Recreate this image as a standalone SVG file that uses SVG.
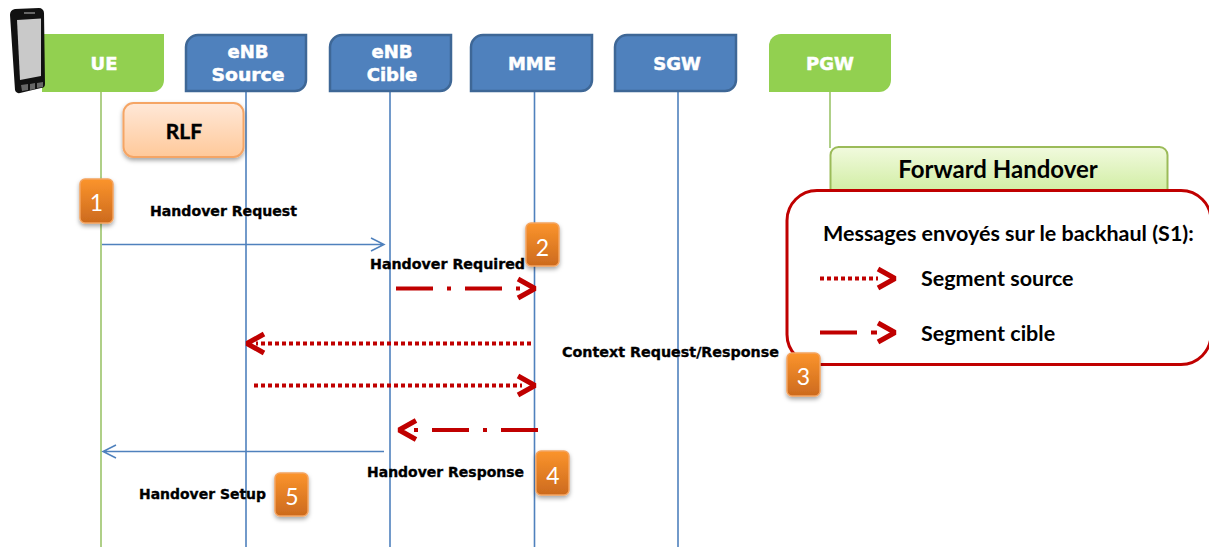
<svg xmlns="http://www.w3.org/2000/svg" width="1209" height="547" viewBox="0 0 1209 547">
<style>
.ll{fill:none;stroke-width:1.6}
.blue{stroke:#4f81bd}.green{stroke:#9bc46a}
.hd{font-family:"DejaVu Sans",sans-serif;font-weight:700;font-size:18px;fill:#fff;text-anchor:middle;stroke:#fff;stroke-width:.5}
.lb{font-family:"DejaVu Sans",sans-serif;font-weight:700;font-size:14.500px;fill:#000;stroke:#000;stroke-width:.35}
.cal{font-family:Lato,"Noto Sans",sans-serif;font-weight:700;fill:#000}
.num{font-family:Lato,"Noto Sans",sans-serif;font-size:23px;fill:#fff;text-anchor:middle}
.thin{fill:none;stroke:#4f81bd;stroke-width:1.5}
.red{fill:none;stroke:#c00000;stroke-width:4}
.dot{stroke-dasharray:4 3}
.dash{stroke-dasharray:37 14 4 14}
.head{fill:none;stroke:#c00000;stroke-width:5;stroke-linejoin:bevel}
.bnode{fill:#4f81bd;stroke:#3e6796;stroke-width:2.500}
.badge{fill:url(#og);stroke:#f4a460;stroke-width:1.500;filter:url(#sh)}
</style>
<defs>
<linearGradient id="og" x1="0" y1="0" x2="0" y2="1"><stop offset="0" stop-color="#fb942c"/><stop offset="1" stop-color="#cc6a1e"/></linearGradient>
<linearGradient id="pg" x1="0" y1="0" x2="0" y2="1"><stop offset="0" stop-color="#ffe8d8"/><stop offset="1" stop-color="#ffc99a"/></linearGradient>
<linearGradient id="gg" x1="0" y1="0" x2="0" y2="1"><stop offset="0" stop-color="#f1fade"/><stop offset="1" stop-color="#cdec9c"/></linearGradient>
<filter id="sh" x="-30%" y="-30%" width="160%" height="170%"><feDropShadow dx="0" dy="2.500" stdDeviation="2" flood-color="#000" flood-opacity=".35"/></filter>
</defs>
<g id="connectors">
<path class="ll green" d="M101 92V547"/>
<path class="ll blue" d="M246 92V547"/>
<path class="ll blue" d="M390 92V547"/>
<path class="ll blue" d="M534.500 92V547"/>
<path class="ll blue" d="M678 92V547"/>
<path class="ll green" d="M830 92V148"/>
<path class="thin" d="M102 244.500H383M371 238l13 6.500-13 6.500"/>
<path class="thin" d="M384 451.500H103M116 445l-13 6.500 13 6.500"/>
<path class="red dash" d="M396 288.500H522"/>
<path class="head" d="M518 279l17 9.500-17 9.500"/>
<path class="red dot" d="M531 343.500H256"/>
<path class="head" d="M264 334l-17 9.500 17 9.500"/>
<path class="red dot" d="M254 385.500H522"/>
<path class="head" d="M518 376l17 9.500-17 9.500"/>
<path class="red dash" d="M538 430H412"/>
<path class="head" d="M416 420.500l-17 9.500 17 9.500"/>
</g>
<g id="ue"><path d="M42 34H164V80a12 12 0 0 1-12 12H42Z" fill="#92d050"/><text class="hd" x="104" y="70">UE</text></g>
<g id="phone">
<path d="M15 9L39 8a5 5 0 0 1 5 5L45 84a4 4 0 0 1-4 4L20 93a4 4 0 0 1-5-3L10 15a6 6 0 0 1 5-6Z" fill="#111"/>
<path d="M17 20L41 18.500V76L20 80Z" fill="#c9c9c9"/>
<rect x="24" y="12" width="11" height="2" fill="#666"/>
<path d="M21 85l7-1v6l-6 1ZM30 84l5-1v6l-5 1ZM37 83l6-1v5l-6 1Z" fill="#666"/>
</g>
<g id="enb-source"><path class="bnode" d="M198 35H306V80a11 11 0 0 1-11 11H186V47a12 12 0 0 1 12-12Z"/><text class="hd" x="248" y="58">eNB</text><text class="hd" x="248" y="81" textLength="73" lengthAdjust="spacingAndGlyphs">Source</text></g>
<g id="enb-cible"><path class="bnode" d="M342 35H451V80a11 11 0 0 1-11 11H330V47a12 12 0 0 1 12-12Z"/><text class="hd" x="392" y="58">eNB</text><text class="hd" x="392" y="81">Cible</text></g>
<g id="mme"><path class="bnode" d="M483 35H592V80a11 11 0 0 1-11 11H471V47a12 12 0 0 1 12-12Z"/><text class="hd" x="532" y="70">MME</text></g>
<g id="sgw"><path class="bnode" d="M627 35H736V80a11 11 0 0 1-11 11H615V47a12 12 0 0 1 12-12Z"/><text class="hd" x="677" y="70">SGW</text></g>
<g id="pgw"><path d="M781 34H891V80a12 12 0 0 1-12 12H769V46a12 12 0 0 1 12-12Z" fill="#92d050"/><text class="hd" x="830" y="70">PGW</text></g>
<g id="rlf"><rect x="123.500" y="103" width="120" height="54" rx="10" fill="url(#pg)" stroke="#f5a565" stroke-width="2" filter="url(#sh)"/><text class="cal" x="184" y="139" font-size="21" text-anchor="middle" stroke="#000" stroke-width=".4">RLF</text></g>
<g id="forward-handover"><rect x="830.500" y="147" width="337" height="50" rx="8" fill="url(#gg)" stroke="#9bbb59" stroke-width="2"/><text class="cal" x="998" y="178" font-size="24" text-anchor="middle">Forward Handover</text></g>
<g id="legend">
<rect x="787" y="190.500" width="424" height="174" rx="30" fill="#fff" stroke="#c00000" stroke-width="3"/>
<text class="cal" x="823" y="241" font-size="21.500">Messages envoyés sur le backhaul (S1):</text>
<path class="red dot" d="M820 278.500H878"/><path class="head" d="M878 269l17 9.500-17 9.500"/>
<text class="cal" x="921" y="286" font-size="21.500">Segment source</text>
<path class="red" d="M820 332.500H857M871 332.500H877"/><path class="head" d="M878 323l17 9.500-17 9.500"/>
<text class="cal" x="921" y="341" font-size="21.500">Segment cible</text>
</g>
<g id="labels">
<text class="lb" x="150" y="216" textLength="147" lengthAdjust="spacingAndGlyphs">Handover Request</text>
<text class="lb" x="370" y="269" textLength="155" lengthAdjust="spacingAndGlyphs">Handover Required</text>
<text class="lb" x="562" y="357" textLength="217" lengthAdjust="spacingAndGlyphs">Context Request/Response</text>
<text class="lb" x="367" y="477" textLength="157" lengthAdjust="spacingAndGlyphs">Handover Response</text>
<text class="lb" x="139" y="499" textLength="127" lengthAdjust="spacingAndGlyphs">Handover Setup</text>
</g>
<g id="badge-1"><rect x="80" y="179" width="33" height="44" rx="5" class="badge"/><text class="num" x="96.500" y="211">1</text></g>
<g id="badge-2"><rect x="526" y="223" width="33" height="43" rx="5" class="badge"/><text class="num" x="542.500" y="256">2</text></g>
<g id="badge-3"><rect x="787" y="353" width="33" height="43" rx="5" class="badge"/><text class="num" x="803.500" y="385">3</text></g>
<g id="badge-4"><rect x="536" y="451" width="33" height="44" rx="5" class="badge"/><text class="num" x="553" y="484">4</text></g>
<g id="badge-5"><rect x="275" y="473" width="33" height="43" rx="5" class="badge"/><text class="num" x="292" y="505">5</text></g>
</svg>
